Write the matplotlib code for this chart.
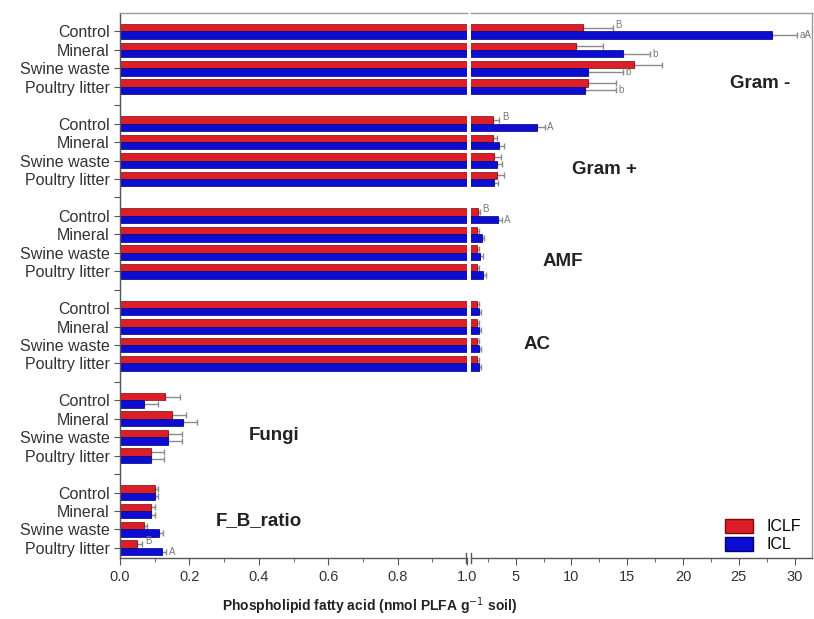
import numpy as np
import matplotlib
matplotlib.use("Agg")
import matplotlib.pyplot as plt
from matplotlib.patches import Patch
from matplotlib.lines import Line2D

plt.rcParams['font.family'] = ['Liberation Sans', 'DejaVu Sans']

treatments = ["Control", "Mineral", "Swine waste", "Poultry litter"]
groups = ["Gram -", "Gram +", "AMF", "AC", "Fungi", "F_B_ratio"]

# ICLF (red) means and upper error
iclf = [
    [11.0, 10.45, 15.65, 11.45],
    [2.95, 2.95, 3.05, 3.3],
    [1.6, 1.5, 1.5, 1.5],
    [1.55, 1.55, 1.55, 1.55],
    [0.13, 0.15, 0.139, 0.089],
    [0.101, 0.09, 0.07, 0.05],
]
iclf_err = [
    [2.7, 2.4, 2.5, 2.5],
    [0.6, 0.4, 0.6, 0.7],
    [0.2, 0.2, 0.2, 0.2],
    [0.15, 0.15, 0.15, 0.15],
    [0.043, 0.04, 0.041, 0.038],
    [0.009, 0.01, 0.008, 0.014],
]
# ICL (blue)
icl = [
    [28.0, 14.6, 11.5, 11.2],
    [6.9, 3.5, 3.3, 3.1],
    [3.4, 1.95, 1.85, 2.1],
    [1.75, 1.75, 1.75, 1.75],
    [0.069, 0.182, 0.139, 0.089],
    [0.1, 0.09, 0.113, 0.122],
]
icl_err = [
    [2.2, 2.4, 3.1, 2.8],
    [0.7, 0.5, 0.5, 0.3],
    [0.35, 0.2, 0.2, 0.2],
    [0.15, 0.15, 0.15, 0.15],
    [0.04, 0.041, 0.041, 0.038],
    [0.01, 0.01, 0.01, 0.01],
]
iclf_letters = [
    ["B", "", "", ""],
    ["B", "", "", ""],
    ["B", "", "", ""],
    ["", "", "", ""],
    ["", "", "", ""],
    ["", "", "", "B"],
]
icl_letters = [
    ["aA", "b", "b", "b"],
    ["A", "", "", ""],
    ["A", "", "", ""],
    ["", "", "", ""],
    ["", "", "", ""],
    ["", "", "", "A"],
]
# where the group names sit: (axis 0=left/1=right, x, slot)
group_label_pos = [(1, 26.9, 2.8), (1, 13.0, 7.5), (1, 9.2, 12.5),
                   (1, 6.9, 17.0), (0, 0.445, 21.9), (0, 0.40, 26.5)]

red = "#dc1e26"
blue = "#0c0cd2"
red_edge = "#7a0a0e"
blue_edge = "#000070"
gray = "#8a8a8a"

fig = plt.figure(figsize=(8.14, 6.19), dpi=100)
ax1 = fig.add_axes([120 / 814, 61 / 619, 347 / 814, 545 / 619])
ax2 = fig.add_axes([471 / 814, 61 / 619, 341 / 814, 545 / 619], sharey=ax1)

h = 0.4

for ax in (ax1, ax2):
    for g in range(len(groups)):
        y = np.arange(4) + g * 5
        ax.barh(y - h / 2, iclf[g], height=h, color=red, edgecolor=red_edge,
                linewidth=0.5, zorder=2)
        ax.barh(y + h / 2, icl[g], height=h, color=blue, edgecolor=blue_edge,
                linewidth=0.5, zorder=2)
        ax.errorbar(iclf[g], y - h / 2, xerr=[np.zeros(4), iclf_err[g]],
                    fmt="none", ecolor=gray, elinewidth=1, capsize=2.5, zorder=1)
        ax.errorbar(icl[g], y + h / 2, xerr=[np.zeros(4), icl_err[g]],
                    fmt="none", ecolor=gray, elinewidth=1, capsize=2.5, zorder=1)

# significance letters
for g in range(len(groups)):
    for t in range(4):
        for vals, errs, lets, off in ((iclf, iclf_err, iclf_letters, -h / 2 - 0.15),
                                      (icl, icl_err, icl_letters, h / 2)):
            if lets[g][t]:
                end = vals[g][t] + errs[g][t]
                ax = ax2 if vals[g][t] > 1 else ax1
                ax.annotate(lets[g][t], (end, g * 5 + t + off), xytext=(2, 0),
                            textcoords="offset points", fontsize=7, color="#777777",
                            va="center", ha="left", annotation_clip=False)

for i, name in enumerate(groups):
    a, x, s = group_label_pos[i]
    (ax2 if a else ax1).text(x, s, name, fontsize=13.5, fontweight="bold",
                             color="#222222", ha="center", va="center")

ax1.set_ylim(28.55, -1)
ax1.set_xlim(0, 1.0)
ax2.set_xlim(1, 31.56)

all_slots = np.arange(29)
ylabels = []
for s in all_slots:
    ylabels.append(treatments[s % 5] if s % 5 < 4 else "")
ax1.set_yticks(all_slots)
ax1.set_yticklabels(ylabels, fontsize=11.5, color="#333333")

ax1.set_xticks(np.arange(0, 1.01, 0.2))
ax1.set_xticklabels(["%.1f" % v for v in np.arange(0, 1.01, 0.2)])
ax1.set_xticks(np.arange(0.1, 1.0, 0.2), minor=True)
ax2.set_xticks([5, 10, 15, 20, 25, 30])
ax2.set_xticks([2.5, 7.5, 12.5, 17.5, 22.5, 27.5], minor=True)

for ax in (ax1, ax2):
    ax.tick_params(axis="x", which="major", direction="out", length=5,
                   color="#555555", labelsize=10.5, labelcolor="#333333")
    ax.tick_params(axis="x", which="minor", direction="out", length=3,
                   color="#555555")
    for sp in ax.spines.values():
        sp.set_color("#999999")
        sp.set_linewidth(1)
    ax.spines["bottom"].set_color("#555555")
ax1.tick_params(axis="y", direction="out", length=4, color="#555555")
ax1.spines["left"].set_color("#555555")
ax1.spines["right"].set_visible(False)
ax2.spines["left"].set_visible(False)
ax2.tick_params(axis="y", left=False, labelleft=False)

# break marks on the x axis
yb = 61 / 619
for xb in (466 / 814, 471 / 814):
    fig.add_artist(Line2D([xb, xb], [yb - 0.008, yb + 0.008], color="#555555",
                          lw=1, transform=fig.transFigure))

handles = [Patch(facecolor=red, edgecolor=red_edge, label="ICLF"),
           Patch(facecolor=blue, edgecolor=blue_edge, label="ICL")]
ax2.legend(handles=handles, loc="lower right", bbox_to_anchor=(1.0, -0.01),
           frameon=False, fontsize=11.5, handlelength=1.8, handleheight=1.0,
           labelspacing=0.15, handletextpad=0.8, borderaxespad=0.3)

fig.text(370 / 814, 13 / 619, "Phospholipid fatty acid (nmol PLFA g$^{-1}$ soil)",
         ha="center", va="center", fontsize=10, fontweight="bold", color="#222222")

fig.savefig("out.png", dpi=100)
